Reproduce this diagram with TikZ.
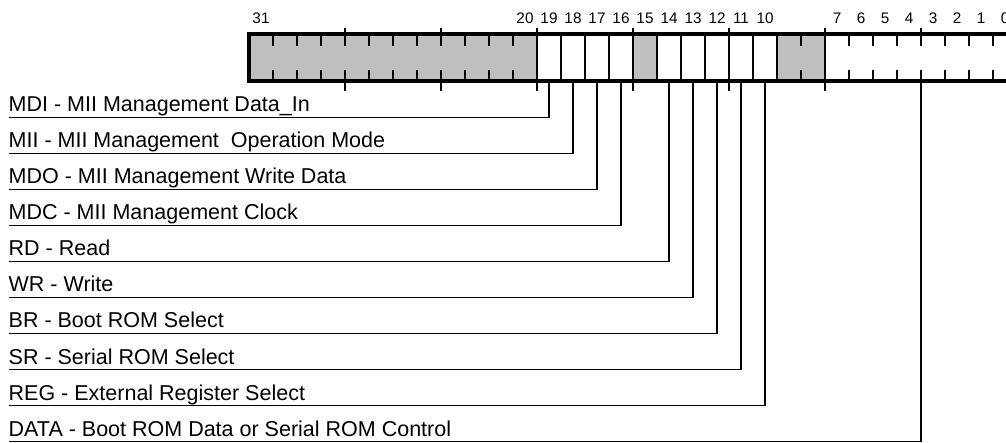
\documentclass[tikz,border=0pt]{standalone}
\usepackage{fontspec}
\setmainfont{Liberation Sans}
\begin{document}
\begin{tikzpicture}[x=1pt,y=-1pt,
  thinline/.style={line width=1.2pt},
  leader/.style={line width=1.2pt},
  frame/.style={line width=3.8pt},
  bitnum/.style={font=\fontsize{15.3}{16}\selectfont, inner sep=0pt, anchor=base},
  fieldlabel/.style={font=\fontsize{21.5}{23}\selectfont, inner sep=0pt, anchor=base west},
  reserved/.style={fill=black!25, draw=none}]
\useasboundingbox (0,0) rectangle (1006,443);

% reserved (gray) fields
\path[reserved] (249,34) rectangle (537,81);
\path[reserved] (633,34) rectangle (657,81);
\path[reserved] (777,34) rectangle (825,81);

% full dividers in bits 19..10 and at gray/white edges
\foreach \x in {537,561,585,609,633,657,681,705,729,753,777,825}
  \draw[thinline] (\x,34) -- (\x,81);

% short ticks
\foreach \x in {273,297,321,345,369,393,417,441,465,489,513,801,849,873,897,921,945,969,993} {
  \draw[thinline] (\x,34) -- (\x,46);
  \draw[thinline] (\x,70.5) -- (\x,81);
}

% long ticks outside the bar (nibble boundaries)
\foreach \x in {345,441,537,633,729,825,921} {
  \draw[thinline] (\x,28.5) -- (\x,34);
  \draw[thinline] (\x,81) -- (\x,91);
}

% frame
\draw[frame] (249,34) rectangle (1017,81);

% bit numbers
\foreach \b in {31,20,19,18,17,16,15,14,13,12,11,10,7,6,5,4,3,2,1,0}
  \node[bitnum] (n\b) at ({249+24*(31-\b)+12},23.3) {\b};

% anchor points on the bar
\coordinate (b19) at (549,81);
\coordinate (b18) at (573,81);
\coordinate (b17) at (597,81);
\coordinate (b16) at (621,81);
\coordinate (b14) at (669,81);
\coordinate (b13) at (693,81);
\coordinate (b12) at (717,81);
\coordinate (b11) at (741,81);
\coordinate (b10) at (765,81);
\coordinate (bdata) at (921,81);

% labels
\node[fieldlabel] (l19) at (8.5,112) {MDI - MII Management Data\_In};
\node[fieldlabel] (l18) at (8.5,148) {MII - MII Management\ \ Operation Mode};
\node[fieldlabel] (l17) at (8.5,184) {MDO - MII Management Write Data};
\node[fieldlabel] (l16) at (8.5,220) {MDC - MII Management Clock};
\node[fieldlabel] (l14) at (8.5,256) {RD - Read};
\node[fieldlabel] (l13) at (8.5,292) {WR - Write};
\node[fieldlabel] (l12) at (8.5,328) {BR - Boot ROM Select};
\node[fieldlabel] (l11) at (8.5,364) {SR - Serial ROM Select};
\node[fieldlabel] (l10) at (8.5,400) {REG - External Register Select};
\node[fieldlabel] (ldata) at (8.5,436) {DATA - Boot ROM Data or Serial ROM Control};

% leader line ends
\coordinate (e19) at (8.5,117.7);
\coordinate (e18) at (8.5,153.7);
\coordinate (e17) at (8.5,189.7);
\coordinate (e16) at (8.5,225.7);
\coordinate (e14) at (8.5,261.7);
\coordinate (e13) at (8.5,297.7);
\coordinate (e12) at (8.5,333.7);
\coordinate (e11) at (8.5,369.7);
\coordinate (e10) at (8.5,405.7);
\coordinate (edata) at (8.5,441.7);

\foreach \k in {19,18,17,16,14,13,12,11,10,data}
  \draw[leader] (b\k) |- (e\k);
\end{tikzpicture}
\end{document}
